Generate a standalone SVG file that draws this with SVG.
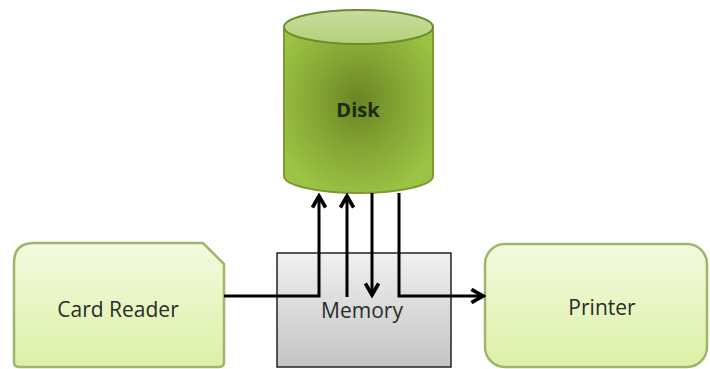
<svg xmlns="http://www.w3.org/2000/svg" width="710" height="369" viewBox="0 0 710 369">
<defs>
<linearGradient id="boxGrad" x1="0" y1="0" x2="0" y2="1">
<stop offset="0" stop-color="#f3fadf"/>
<stop offset="1" stop-color="#dcf0a6"/>
</linearGradient>
<linearGradient id="memGrad" x1="0" y1="0" x2="0" y2="1">
<stop offset="0" stop-color="#f0f0f0"/>
<stop offset="1" stop-color="#c4c4c4"/>
</linearGradient>
<radialGradient id="diskGrad" cx="0.5" cy="0.45" r="0.6">
<stop offset="0" stop-color="#6b8424"/>
<stop offset="0.5" stop-color="#85a634"/>
<stop offset="1" stop-color="#9cc444"/>
</radialGradient>
<linearGradient id="topGrad" x1="0" y1="0" x2="0" y2="1">
<stop offset="0" stop-color="#c8dca0"/>
<stop offset="1" stop-color="#b4d078"/>
</linearGradient>
<marker id="arrow" viewBox="0 0 10 10" refX="8" refY="5" markerWidth="5.5" markerHeight="5.5" orient="auto" markerUnits="strokeWidth">
<path d="M1,1 L8,5 L1,9" fill="none" stroke="#000" stroke-width="2.2"/>
</marker>
<style>
.box{fill:url(#boxGrad);stroke:#9fb56a;stroke-width:2.5}
.lbl{font-family:"Open Sans","Liberation Sans",sans-serif;font-size:21px;fill:#2b2b2b;text-anchor:middle}
.conn{fill:none;stroke:#000;stroke-width:3}
</style>
</defs>
<g id="disk">
<path d="M284,27 L284,176 A74.5,17 0 0 0 433,176 L433,27 Z" fill="url(#diskGrad)" stroke="#7b9a36" stroke-width="2"/>
<ellipse cx="358.5" cy="27" rx="74.5" ry="17" fill="url(#topGrad)" stroke="#6f8c2c" stroke-width="2"/>
<text x="358" y="117" class="lbl" style="font-weight:bold;font-size:20px;fill:#1e2a0c">Disk</text>
</g>
<g id="card-reader">
<path d="M34,243 L203,243 L224,264 L224,362 Q224,367 219,367 L19,367 Q14,367 14,362 L14,263 Q14,243 34,243 Z" class="box"/>
<text x="118" y="317" class="lbl">Card Reader</text>
</g>
<g id="memory">
<rect x="277" y="253" width="174" height="114" fill="url(#memGrad)" stroke="#222" stroke-width="1.5"/>
<text x="362" y="318" class="lbl">Memory</text>
</g>
<g id="printer">
<rect x="485" y="244" width="222" height="123" rx="20" ry="20" class="box"/>
<text x="602" y="315" class="lbl">Printer</text>
</g>
<g id="connectors">
<path d="M224,296 L319,296 L319,196" class="conn" marker-end="url(#arrow)"/>
<path d="M347,297 L347,196" class="conn" marker-end="url(#arrow)"/>
<path d="M372,193 L372,295" class="conn" marker-end="url(#arrow)"/>
<path d="M399,193 L399,296 L483,296" class="conn" marker-end="url(#arrow)"/>
</g>
</svg>
